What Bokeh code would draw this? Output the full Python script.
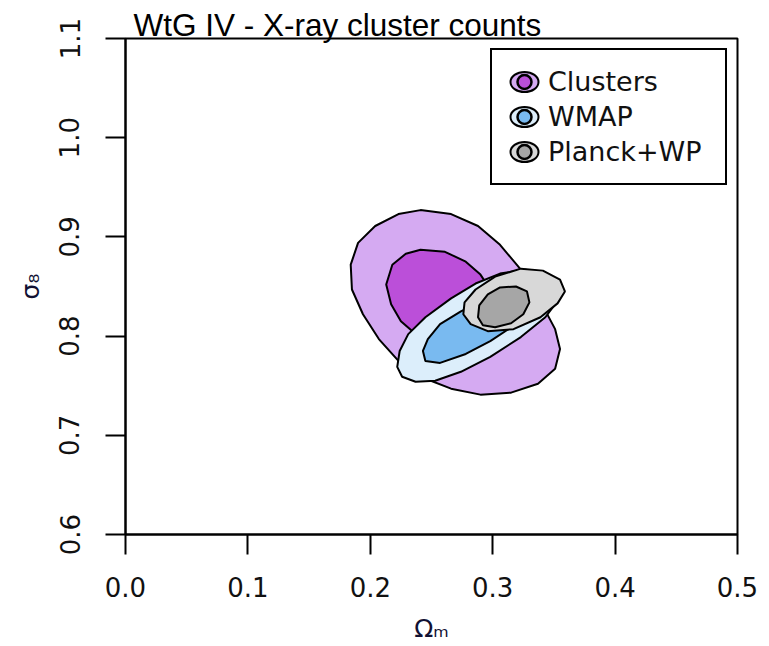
import math
from bokeh.plotting import figure
from bokeh.models import Range1d, FixedTicker, Legend, LegendItem, ColumnDataSource
from bokeh.embed import file_html
from bokeh.resources import INLINE

title_text = "WtG IV - X-ray cluster counts"
x_label = "Ωₘ"
y_label = "σ₈"

x_ticks = [0.0, 0.1, 0.2, 0.3, 0.4, 0.5]
x_tick_labels = ["0.0", "0.1", "0.2", "0.3", "0.4", "0.5"]
y_ticks = [0.6, 0.7, 0.8, 0.9, 1.0, 1.1]
y_tick_labels = ["0.6", "0.7", "0.8", "0.9", "1.0", "1.1"]

series_names = ["Clusters", "WMAP", "Planck+WP"]

# Clusters (outer = 95%, inner = 68%)
clusters_outer_x = [0.241, 0.266, 0.288, 0.306, 0.323, 0.339, 0.351, 0.355, 0.351, 0.337, 0.315,
                    0.290, 0.266, 0.241, 0.223, 0.207, 0.194, 0.185, 0.184, 0.190, 0.204, 0.223]
clusters_outer_y = [0.927, 0.923, 0.911, 0.892, 0.867, 0.835, 0.807, 0.787, 0.767, 0.752, 0.743,
                    0.741, 0.747, 0.759, 0.775, 0.797, 0.822, 0.847, 0.872, 0.894, 0.911, 0.923]
clusters_inner_x = [0.241, 0.261, 0.278, 0.290, 0.298, 0.294, 0.278, 0.257, 0.237, 0.225, 0.217,
                    0.213, 0.218, 0.229]
clusters_inner_y = [0.887, 0.885, 0.875, 0.862, 0.847, 0.827, 0.812, 0.802, 0.802, 0.815, 0.832,
                    0.852, 0.872, 0.883]

# WMAP
wmap_outer_x = [0.222, 0.226, 0.237, 0.253, 0.274, 0.298, 0.323, 0.343, 0.354, 0.354, 0.343,
                0.327, 0.306, 0.286, 0.266, 0.245, 0.231, 0.224]
wmap_outer_y = [0.769, 0.759, 0.754, 0.755, 0.764, 0.779, 0.799, 0.819, 0.837, 0.852, 0.863,
                0.867, 0.863, 0.853, 0.838, 0.819, 0.802, 0.785]
wmap_inner_x = [0.245, 0.257, 0.278, 0.298, 0.319, 0.331, 0.329, 0.315, 0.294, 0.274, 0.257,
                0.247, 0.243]
wmap_inner_y = [0.775, 0.773, 0.782, 0.795, 0.812, 0.827, 0.839, 0.842, 0.837, 0.825, 0.812,
                0.797, 0.785]

# Planck+WP
planck_outer_x = [0.276, 0.282, 0.296, 0.317, 0.339, 0.353, 0.359, 0.355, 0.341, 0.323, 0.302,
                  0.286, 0.277]
planck_outer_y = [0.822, 0.812, 0.805, 0.807, 0.819, 0.833, 0.845, 0.857, 0.866, 0.868, 0.860,
                  0.847, 0.834]
planck_inner_x = [0.288, 0.292, 0.302, 0.315, 0.325, 0.330, 0.328, 0.319, 0.306, 0.296, 0.289]
planck_inner_y = [0.819, 0.811, 0.809, 0.813, 0.822, 0.834, 0.845, 0.850, 0.849, 0.842, 0.831]

outer_colors = ["#D5AAF2", "#DCEEFB", "#D8D8D8"]
inner_colors = ["#BB4FD9", "#79BAF0", "#A6A6A6"]

p = figure(width=769, height=646, output_backend="svg", toolbar_location=None,
           x_range=Range1d(0.0, 0.5), y_range=Range1d(0.6, 1.1),
           min_border_left=125, min_border_right=32, min_border_top=38, min_border_bottom=112)
p.background_fill_color = "white"
p.border_fill_color = "white"
p.outline_line_color = "black"
p.outline_line_width = 2
p.xgrid.visible = False
p.ygrid.visible = False

# Title
p.title.text = title_text
p.title.text_font = "Liberation Sans"
p.title.text_font_size = "31.5px"
p.title.text_font_style = "normal"
p.title.text_color = "black"
p.title.align = "left"
p.title.offset = 8
p.title.standoff = -8

# Axes
for ax in (p.xaxis[0], p.yaxis[0]):
    ax.axis_line_color = "black"
    ax.axis_line_width = 2
    ax.major_tick_line_color = "black"
    ax.major_tick_line_width = 2
    ax.major_tick_in = 0
    ax.major_tick_out = 20
    ax.minor_tick_line_color = None
    ax.major_label_text_font = "DejaVu Sans"
    ax.major_label_text_font_size = "26px"
    ax.major_label_text_color = "#111111"
    ax.axis_label_text_font = "DejaVu Sans"
    ax.axis_label_text_font_size = "25px"
    ax.axis_label_text_font_style = "normal"
    ax.axis_label_text_color = "#111133"

p.xaxis.ticker = FixedTicker(ticks=x_ticks)
p.yaxis.ticker = FixedTicker(ticks=y_ticks)
p.xaxis.major_label_overrides = dict(zip(x_ticks, x_tick_labels))
p.yaxis.major_label_overrides = dict(zip(y_ticks, y_tick_labels))
p.xaxis.major_label_standoff = 22
p.yaxis.major_label_standoff = 26
p.yaxis.major_label_orientation = "parallel"
p.xaxis.axis_label = x_label
p.yaxis.axis_label = y_label
p.xaxis.axis_label_standoff = 14
p.yaxis.axis_label_standoff = 12

# Contours (drawn in back-to-front order)
contours = [
    (clusters_outer_x, clusters_outer_y, outer_colors[0]),
    (clusters_inner_x, clusters_inner_y, inner_colors[0]),
    (wmap_outer_x, wmap_outer_y, outer_colors[1]),
    (wmap_inner_x, wmap_inner_y, inner_colors[1]),
    (planck_outer_x, planck_outer_y, outer_colors[2]),
    (planck_inner_x, planck_inner_y, inner_colors[2]),
]
for xs, ys, col in contours:
    p.patch(xs, ys, fill_color=col, line_color="black", line_width=2)

# Legend proxies (no visible point on the plot)
items = []
for name, oc, ic in zip(series_names, outer_colors, inner_colors):
    src = ColumnDataSource(data=dict(x=[float("nan")], y=[float("nan")]))
    r_out = p.ellipse(x="x", y="y", width=36, height=26, width_units="screen", height_units="screen",
                      source=src, fill_color=oc, line_color="black", line_width=2)
    r_in = p.scatter(x="x", y="y", size=14, marker="circle", source=src,
                     fill_color=ic, line_color="black", line_width=2.5)
    items.append(LegendItem(label=name, renderers=[r_out, r_in], index=0))

legend = Legend(items=items, location="top_right", margin=10, padding=14, spacing=0,
                glyph_width=36, glyph_height=35, label_standoff=6, label_width=163,
                label_text_font="DejaVu Sans", label_text_font_size="27px", label_text_color="#111111",
                border_line_color="black", border_line_width=2, border_line_alpha=1.0,
                background_fill_color="white", background_fill_alpha=1.0)
p.add_layout(legend)

open("out.html", "w").write(file_html(p, INLINE))
